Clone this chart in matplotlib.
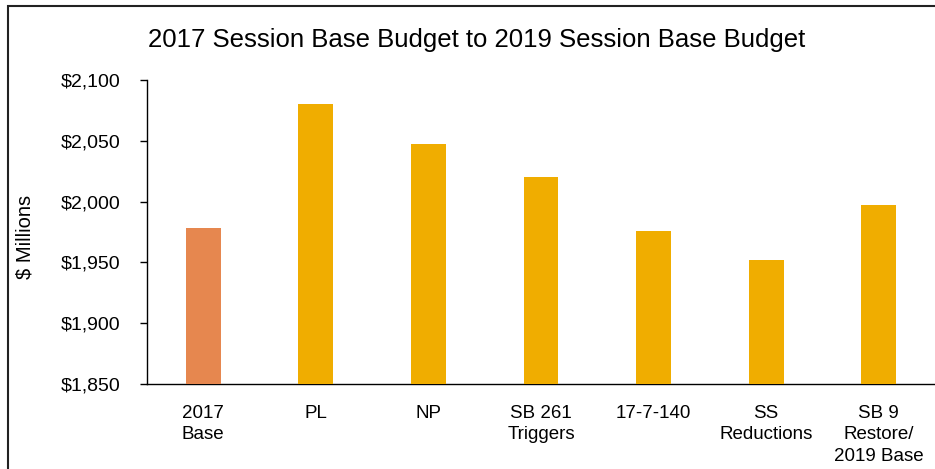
import matplotlib.pyplot as plt
from matplotlib.patches import Rectangle

# Data (in $ millions)
categories = ['2017\nBase', 'PL', 'NP', 'SB 261\nTriggers', '17-7-140',
              'SS\nReductions', 'SB 9\nRestore/\n2019 Base']
values = [1978.5, 2080.3, 2047.1, 2020.2, 1975.8, 1952.0, 1997.2]
bar_colors = ['#E6874F', '#F0AD00', '#F0AD00', '#F0AD00', '#F0AD00', '#F0AD00', '#F0AD00']
yticks = [1850, 1900, 1950, 2000, 2050, 2100]

plt.rcParams['font.family'] = ['Liberation Sans', 'DejaVu Sans']

fig = plt.figure(figsize=(9.35, 4.69), dpi=100)
ax = fig.add_axes([147 / 935, 1 - 384 / 469, 1 - 147 / 935, (384 - 80) / 469])

x = range(len(categories))
ax.bar(x, values, width=0.31, color=bar_colors, zorder=3)

ax.set_xlim(-0.5, len(categories) - 0.5)
ax.set_ylim(1850, 2100)
ax.set_yticks(yticks)
ax.set_yticklabels([f'${v:,}' for v in yticks], fontsize=14)
ax.tick_params(axis='y', direction='out', length=5, width=1, pad=14)
ax.set_xticks(list(x))
ax.set_xticklabels(categories, fontsize=13.5, linespacing=1.35, va='top')
ax.tick_params(axis='x', length=0, pad=15)

ax.spines['top'].set_visible(False)
ax.spines['right'].set_visible(False)
ax.spines['left'].set_linewidth(1)
ax.spines['bottom'].set_linewidth(1)

fig.text(25 / 935, 1 - 237 / 469, '$ Millions', rotation=90,
         ha='center', va='center', fontsize=14.5)

fig.text(477 / 935, 1 - 47 / 469, '2017 Session Base Budget to 2019 Session Base Budget',
         ha='center', va='baseline', fontsize=18.5)

# Outer border of the chart frame (clipped at right/bottom like the reference)
fig.patches.append(Rectangle((8 / 935, -0.1), 1.2, 1 - 6 / 469 + 0.1, transform=fig.transFigure,
                             fill=False, edgecolor='#222222', linewidth=1.5))

fig.savefig('out.png', dpi=100)
